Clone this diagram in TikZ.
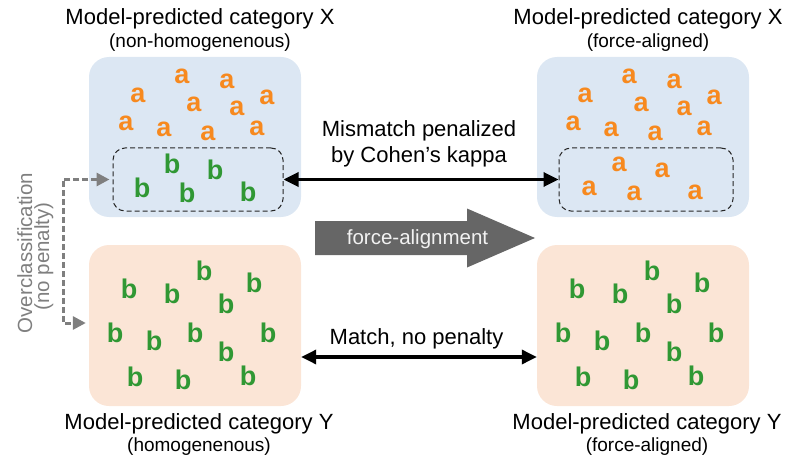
\documentclass[tikz,border=0pt]{standalone}
\usepackage{fontspec}
\setmainfont{Liberation Sans}
\usetikzlibrary{arrows.meta}
\definecolor{orA}{RGB}{247,137,30}
\definecolor{grB}{RGB}{48,152,52}
\definecolor{boxblue}{RGB}{220,231,243}
\definecolor{boxpeach}{RGB}{251,229,214}
\definecolor{darkarrow}{RGB}{102,102,102}
\definecolor{midgray}{RGB}{127,127,127}
\tikzset{
  bluebox/.style={fill=boxblue, rounded corners=20pt, minimum width=212pt, minimum height=160pt, inner sep=0pt},
  peachbox/.style={fill=boxpeach, rounded corners=20pt, minimum width=212pt, minimum height=161pt, inner sep=0pt},
  dashbox/.style={draw=black!85, line width=1pt, dash pattern=on 5pt off 3pt, rounded corners=12pt, minimum height=63pt, inner sep=0pt},
  lettera/.style={text=orA, font=\fontsize{27}{30}\selectfont\bfseries, inner sep=0pt},
  letterb/.style={text=grB, font=\fontsize{27}{30}\selectfont\bfseries, inner sep=0pt},
  titletext/.style={font=\fontsize{22}{26}\selectfont, anchor=base, inner sep=0pt},
  subtext/.style={font=\fontsize{19}{22}\selectfont, anchor=base, inner sep=0pt},
  blackarrow/.style={line width=3.3pt, {Triangle[length=15pt,width=14pt]}-{Triangle[length=15pt,width=14pt]}},
  grayarrow/.style={draw=midgray, line width=3pt, dash pattern=on 6pt off 3pt, {Triangle[length=13pt,width=13pt]}-{Triangle[length=13pt,width=13pt]}},
}
\begin{document}
\begin{tikzpicture}[x=1pt,y=-1pt]
\useasboundingbox (0,0) rectangle (786,457);
% boxes
\node[bluebox] (tl) at (195,137) {};
\node[bluebox] (tr) at (643,137) {};
\node[peachbox] (bl) at (195,325.5) {};
\node[peachbox] (br) at (643,325.5) {};
\node[dashbox, minimum width=170pt] (dl) at (198,179.5) {};
\node[dashbox, minimum width=174pt] (dr) at (646,179.5) {};
% letters top-left and top-right
\foreach \x/\y [count=\i] in {182/76,227/81,138/95,267/97,194/104,237/108,126/123,164/129,208/133,257/128}{
  \node[lettera] (tla\i) at (\x,\y) {a};
  \node[lettera] (tra\i) at (\x+447,\y) {a};
}
\foreach \x/\y [count=\i] in {172/164,215/170,142/188,187/193,248/192}{
  \node[letterb] (dlb\i) at (\x,\y) {b};
  \node[lettera] (dra\i) at (\x+447,\y) {a};
}
% letters bottom
\foreach \x/\y [count=\i] in {129/289,172/294,204/271,254/283,226/304,115/333,154/341,195/333,226/352,268/333,135/377,183/380,248/376}{
  \node[letterb] (blb\i) at (\x,\y) {b};
  \node[letterb] (brb\i) at (\x+448,\y) {b};
}
% titles
\node[titletext] (t1) at (200,25) {Model-predicted category X};
\node[subtext] (s1) at (200,48) {(non-homogenenous)};
\node[titletext] (t2) at (648,25) {Model-predicted category X};
\node[subtext] (s2) at (648,48) {(force-aligned)};
\node[titletext] (t3) at (199,429) {Model-predicted category Y};
\node[subtext] (s3) at (199,451) {(homogenenous)};
\node[titletext] (t4) at (647,429) {Model-predicted category Y};
\node[subtext] (s4) at (647,451) {(force-aligned)};
% mismatch arrow
\node[titletext] (mm1) at (419,137) {Mismatch penalized};
\node[titletext] (mm2) at (419,163) {by Cohen’s kappa};
\draw[blackarrow] (dl.east) -- (dr.west);
% match arrow
\coordinate (m) at (0,357);
\node[titletext] (ma) at (416.5,344) {Match, no penalty};
\draw[blackarrow] (bl.east |- m) -- (br.west |- m);
% force-alignment block arrow
\fill[darkarrow] (315,221) -- (467,221) -- (467,208.5) -- (535,238) -- (467,267.5) -- (467,255) -- (315,255) -- cycle;
\node[anchor=base, inner sep=0pt, text={rgb,255:red,242;green,242;blue,242}, font=\fontsize{20.5}{24}\selectfont] (fa) at (417.5,244) {force-alignment};
% overclassification
\coordinate (ovc) at (63,323);
\draw[grayarrow] ([xshift=-3pt]dl.west) -| (ovc) -- ([xshift=-3pt]bl.west |- ovc);
\node[rotate=90, anchor=base, inner sep=0pt, text=midgray, font=\fontsize{20.5}{24}\selectfont] (ov1) at (32,253) {Overclassification};
\node[rotate=90, anchor=base, inner sep=0pt, text=midgray, font=\fontsize{20.5}{24}\selectfont] (ov2) at (49,256.5) {(no penalty)};
\end{tikzpicture}
\end{document}
